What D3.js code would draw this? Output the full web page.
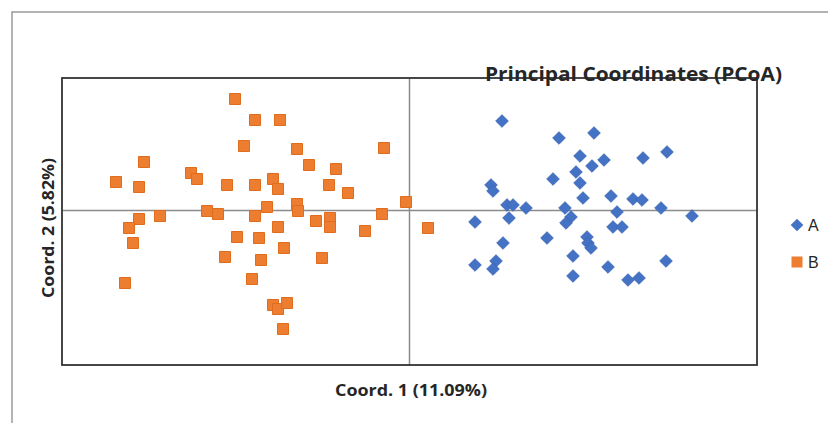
<!DOCTYPE html>
<html>
<head>
<meta charset="utf-8">
<script src="https://cdn.jsdelivr.net/npm/d3@7"></script>
<style>
  body { margin: 0; background: #fff; }
  svg { display: block; }
</style>
</head>
<body>
<div id="chart"></div>
<script>
// group A (blue diamonds): [coord1, coord2]
const groupA = [
  [0.093, 0.089], [0.150, 0.072], [0.185, 0.077], [0.171, 0.054], [0.195, 0.050],
  [0.183, 0.044], [0.167, 0.038], [0.144, 0.031], [0.171, 0.027], [0.082, 0.025],
  [0.084, 0.019], [0.174, 0.012], [0.202, 0.014], [0.098, 0.005], [0.104, 0.005],
  [0.117, 0.002], [0.156, 0.002], [0.208, -0.002], [0.162, -0.007], [0.157, -0.013],
  [0.066, -0.012], [0.100, -0.008], [0.234, 0.052], [0.258, 0.058], [0.224, 0.011],
  [0.233, 0.010], [0.252, 0.002], [0.283, -0.006], [0.204, -0.017], [0.213, -0.017],
  [0.094, -0.033], [0.138, -0.028], [0.178, -0.027], [0.179, -0.033], [0.182, -0.038],
  [0.164, -0.046], [0.066, -0.055], [0.087, -0.051], [0.084, -0.059], [0.164, -0.066],
  [0.199, -0.057], [0.257, -0.051], [0.219, -0.070], [0.230, -0.068]
];

// group B (orange squares)
const groupB = [
  [-0.174, 0.111], [-0.154, 0.090], [-0.129, 0.090], [-0.165, 0.064], [-0.265, 0.048],
  [-0.293, 0.028], [-0.270, 0.023], [-0.218, 0.037], [-0.212, 0.031], [-0.182, 0.025],
  [-0.154, 0.025], [-0.136, 0.031], [-0.131, 0.021], [-0.112, 0.061], [-0.100, 0.045],
  [-0.073, 0.041], [-0.025, 0.062], [-0.080, 0.025], [-0.061, 0.017], [-0.003, 0.008],
  [-0.142, 0.003], [-0.202, -0.001], [-0.191, -0.004], [-0.154, -0.006], [-0.249, -0.006],
  [-0.270, -0.009], [-0.280, -0.018], [-0.276, -0.033], [-0.284, -0.073], [-0.131, -0.017],
  [-0.112, 0.006], [-0.111, -0.001], [-0.093, -0.011], [-0.079, -0.008], [-0.079, -0.017],
  [-0.027, -0.004], [-0.044, -0.021], [0.019, -0.018], [-0.172, -0.027], [-0.150, -0.028],
  [-0.125, -0.038], [-0.184, -0.047], [-0.148, -0.050], [-0.087, -0.048], [-0.157, -0.069],
  [-0.136, -0.095], [-0.131, -0.099], [-0.122, -0.093], [-0.126, -0.119]
];

const seriesNames = ['A', 'B'];
const xDomain = [-0.347, 0.348];
const yDomain = [-0.155, 0.132];

const width = 828, height = 423;
const plot = { left: 62, right: 757, top: 78, bottom: 365 };

const svg = d3.select('#chart').append('svg')
  .attr('width', width)
  .attr('height', height);

// outer frame (only top and left edges visible)
svg.append('path')
  .attr('d', `M12,${height} L12,12 L${width},12`)
  .attr('fill', 'none')
  .attr('stroke', '#9a9a9a')
  .attr('stroke-width', 1.5);

const x = d3.scaleLinear().domain(xDomain).range([plot.left, plot.right]);
const y = d3.scaleLinear().domain(yDomain).range([plot.bottom, plot.top]);

// crosshair axes at 0,0 (no ticks)
svg.append('g')
  .attr('transform', `translate(0,${y(0)})`)
  .call(d3.axisBottom(x).tickValues([]).tickSizeOuter(0))
  .call(g => g.select('.domain').attr('stroke', '#8c8c8c').attr('stroke-width', 1.5));

svg.append('g')
  .attr('transform', `translate(${x(0)},0)`)
  .call(d3.axisLeft(y).tickValues([]).tickSizeOuter(0))
  .call(g => g.select('.domain').attr('stroke', '#8c8c8c').attr('stroke-width', 1.5));

// plot area border
svg.append('rect')
  .attr('x', plot.left)
  .attr('y', plot.top)
  .attr('width', plot.right - plot.left)
  .attr('height', plot.bottom - plot.top)
  .attr('fill', 'none')
  .attr('stroke', '#333')
  .attr('stroke-width', 1.8);

const blue = '#4472C4', orange = '#ED7D31';
const diamond = d3.symbol().type(d3.symbolSquare).size(80);
const square = d3.symbol().type(d3.symbolSquare).size(121);

svg.append('g').selectAll('path')
  .data(groupB)
  .join('path')
  .attr('d', square)
  .attr('transform', d => `translate(${x(d[0])},${y(d[1])})`)
  .attr('fill', orange)
  .attr('stroke', '#e06c1e')
  .attr('stroke-width', 1);

svg.append('g').selectAll('path')
  .data(groupA)
  .join('path')
  .attr('d', diamond)
  .attr('transform', d => `translate(${x(d[0])},${y(d[1])}) rotate(45)`)
  .attr('fill', blue)
  .attr('stroke', '#3d66b3')
  .attr('stroke-width', 0.8);

// title
svg.append('text')
  .attr('x', 485)
  .attr('y', 81)
  .attr('textLength', 297)
  .attr('lengthAdjust', 'spacingAndGlyphs')
  .attr('font-family', '"Open Sans", sans-serif')
  .attr('font-weight', 'bold')
  .attr('font-size', 19.5)
  .attr('fill', '#262626')
  .text('Principal Coordinates (PCoA)');

// axis titles
svg.append('text')
  .attr('x', 335)
  .attr('y', 396)
  .attr('textLength', 152)
  .attr('lengthAdjust', 'spacingAndGlyphs')
  .attr('font-family', '"Open Sans", sans-serif')
  .attr('font-weight', 'bold')
  .attr('font-size', 16)
  .attr('fill', '#262626')
  .text('Coord. 1 (11.09%)');

svg.append('text')
  .attr('transform', 'translate(54,298) rotate(-90)')
  .attr('textLength', 140)
  .attr('lengthAdjust', 'spacingAndGlyphs')
  .attr('font-family', '"Open Sans", sans-serif')
  .attr('font-weight', 'bold')
  .attr('font-size', 16)
  .attr('fill', '#262626')
  .text('Coord. 2 (5.82%)');

// legend
const legend = svg.append('g');
const legendRows = legend.selectAll('g')
  .data(seriesNames)
  .join('g')
  .attr('transform', (d, i) => `translate(797,${225 + i * 37})`);

legendRows.append('path')
  .attr('d', (d, i) => i === 0 ? diamond() : square())
  .attr('transform', (d, i) => i === 0 ? 'rotate(45)' : null)
  .attr('fill', (d, i) => i === 0 ? blue : orange);

legendRows.append('text')
  .attr('x', 11)
  .attr('y', 6)
  .attr('font-family', '"Liberation Sans", Arial, sans-serif')
  .attr('font-size', 16)
  .attr('fill', '#262626')
  .text(d => d);
</script>
</body>
</html>
